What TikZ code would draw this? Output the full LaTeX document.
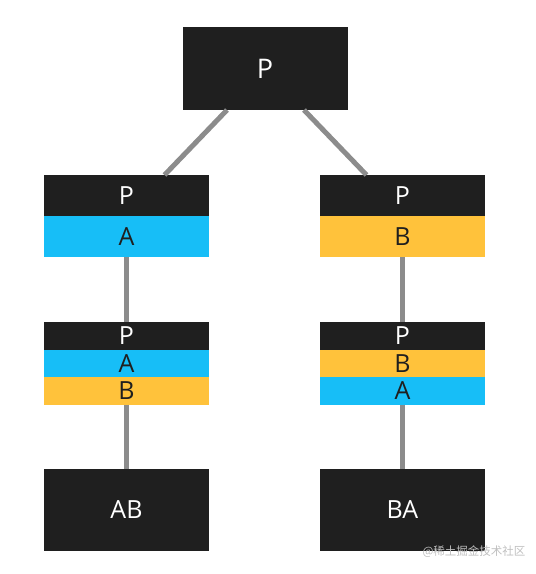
\documentclass[tikz,border=0pt]{standalone}
\usepackage{fontspec}
\setmainfont{Open Sans}
\newfontfamily\cjk{Noto Sans CJK SC}
\usetikzlibrary{positioning}
\definecolor{darkbg}{HTML}{1F1F1F}
\definecolor{cyanband}{HTML}{17BEF7}
\definecolor{yellowband}{HTML}{FFC23B}
\definecolor{linkgray}{HTML}{8C8C8C}
\tikzset{
  band/.style={rectangle, inner sep=0pt, outer sep=0pt, minimum width=165pt},
  pband/.style={band, fill=darkbg, text=white},
  aband/.style={band, fill=cyanband, text=darkbg},
  bband/.style={band, fill=yellowband, text=darkbg},
  link/.style={draw=linkgray, line width=5pt}
}
\begin{document}
\begin{tikzpicture}[x=1pt, y=-1pt, font=\fontsize{25}{25}\selectfont]
    \useasboundingbox (0,0) rectangle (536,574);

    % Oberer Knoten
    \node[pband, minimum height=83pt, font=\fontsize{27}{27}\selectfont] (top) at (265,68.5) {P};

    % Linker Zweig
    \node[pband, minimum height=41pt] (lp) at (126.5,195.5) {P};
    \node[aband, minimum height=41pt, below=0pt of lp] (la) {A};
    \node[pband, minimum height=27.5pt] (lp2) at (126.5,335.75) {P};
    \node[aband, minimum height=27.5pt, below=0pt of lp2] (la2) {A};
    \node[bband, minimum height=27.5pt, below=0pt of la2] (lb2) {B};
    \node[pband, minimum height=82pt] (ab) at (126.5,510) {AB};

    % Rechter Zweig
    \node[pband, minimum height=41pt] (rp) at (402.5,195.5) {P};
    \node[bband, minimum height=41pt, below=0pt of rp] (rb) {B};
    \node[pband, minimum height=27.5pt] (rp2) at (402.5,335.75) {P};
    \node[bband, minimum height=27.5pt, below=0pt of rp2] (rb2) {B};
    \node[aband, minimum height=27.5pt, below=0pt of rb2] (ra2) {A};
    \node[pband, minimum height=82pt] (ba) at (402.5,510) {BA};

    % Verbindungen
    \draw[link] ([xshift=-38pt]top.south) -- ([xshift=38pt]lp.north);
    \draw[link] ([xshift=39pt]top.south) -- ([xshift=-36pt]rp.north);
    \draw[link] (la.south) -- (lp2.north);
    \draw[link] (lb2.south) -- (ab.north);
    \draw[link] (rb.south) -- (rp2.north);
    \draw[link] (ra2.south) -- (ba.north);

    % Wasserzeichen
    \node[text=black!25, font=\cjk\fontsize{11.5}{12}\selectfont, anchor=west] (mark) at (419,552) {@稀土掘金技术社区};
\end{tikzpicture}
\end{document}
